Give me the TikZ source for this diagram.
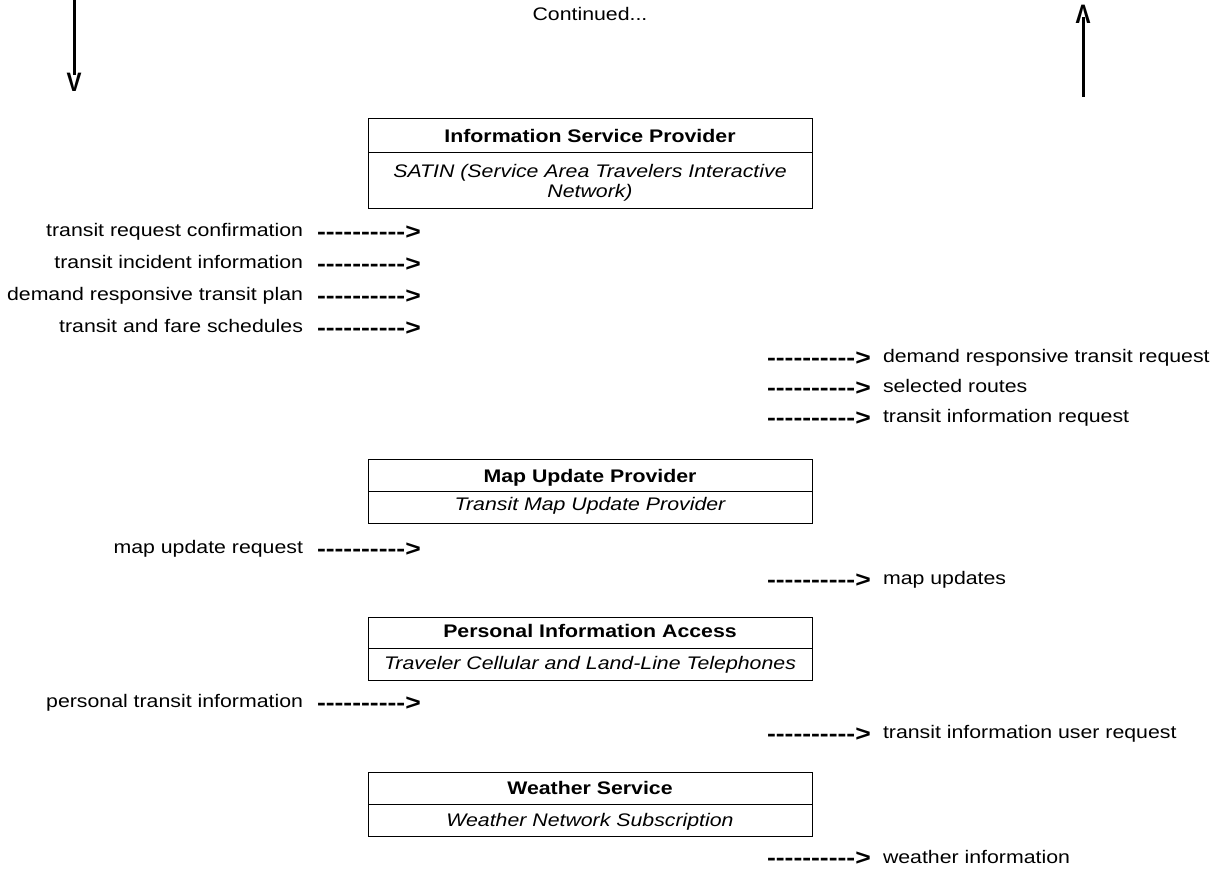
\documentclass[tikz,border=0pt]{standalone}
\usepackage{fontspec}
\setmainfont{Liberation Sans}[FakeStretch=1.17]
% bold "---------->" flow marker; kerns keep the hyphens from joining into dashes
\newcommand\flowmark{{\bfseries\fontsize{17pt}{17pt}\selectfont
 -\kern0pt-\kern0pt-\kern0pt-\kern0pt-\kern0pt-\kern0pt-\kern0pt-\kern0pt-\kern0pt-\kern0pt>}}
\begin{document}
\begin{tikzpicture}[x=0.75pt,y=-0.75pt,
  every node/.style={inner sep=0pt, outer sep=0pt,
    font=\fontsize{13.65pt}{15pt}\selectfont},
  boxpart/.style={draw, line width=0.75pt, minimum width=333pt},
  head/.style={anchor=base, font=\fontsize{13.65pt}{15pt}\selectfont\bfseries},
  sub/.style={anchor=base, align=center, font=\fontsize{13.65pt}{15pt}\selectfont\itshape},
  inlabel/.style={anchor=base east},
  outlabel/.style={anchor=base west},
  flow/.style={anchor=base west},
  tip/.style={font=\fontsize{20pt}{20pt}\selectfont\bfseries},
  trunk/.style={line width=2.25pt}
]
\useasboundingbox (0,0) rectangle (1220,869);

% page continuation
\node[anchor=base] (cont) at (590,20) {Continued...};
\coordinate (ltop) at (74,0);
\node[tip, anchor=north] (vdown) at (74,73) {\scalebox{0.72}[1]{V}};
\draw[trunk] (ltop) -- ([yshift=-1.5pt]vdown.north);
\coordinate (rbot) at (1083,97);
\node[tip, anchor=north] (vup) at (1083,5) {\scalebox{0.72}[1]{Λ}};
\draw[trunk] ([yshift=4.5pt]vup.south) -- (rbot);

% Information Service Provider
\node[boxpart, minimum height=25.5pt] (ispbox) at (590,135) {};
\node[boxpart, minimum height=42pt] (ispsubbox) at (590,180) {};
\node[head] (isp) at (590,142) {Information Service Provider};
\node[sub] (ispsub) at (590,197) {SATIN (Service Area Travelers Interactive\\Network)};

\node[inlabel] (l1) at (303,236) {transit request confirmation};
\node[flow] (f1) at (317,239) {\flowmark};
\node[inlabel] (l2) at (303,268) {transit incident information};
\node[flow] (f2) at (317,271) {\flowmark};
\node[inlabel] (l3) at (303,300) {demand responsive transit plan};
\node[flow] (f3) at (317,303) {\flowmark};
\node[inlabel] (l4) at (303,332) {transit and fare schedules};
\node[flow] (f4) at (317,335) {\flowmark};

\node[flow] (f5) at (767,365) {\flowmark};
\node[outlabel] (l5) at (883,362) {demand responsive transit request};
\node[flow] (f6) at (767,395) {\flowmark};
\node[outlabel] (l6) at (883,392) {selected routes};
\node[flow] (f7) at (767,425) {\flowmark};
\node[outlabel] (l7) at (883,422) {transit information request};

% Map Update Provider
\node[boxpart, minimum height=24pt] (mupbox) at (590,475) {};
\node[boxpart, minimum height=24pt] (mupsubbox) at (590,507) {};
\node[head] (mup) at (590,482) {Map Update Provider};
\node[sub] (mupsub) at (590,510) {Transit Map Update Provider};

\node[inlabel] (l8) at (303,553) {map update request};
\node[flow] (f8) at (317,556) {\flowmark};
\node[flow] (f9) at (767,587) {\flowmark};
\node[outlabel] (l9) at (883,584) {map updates};

% Personal Information Access
\node[boxpart, minimum height=23.25pt] (piabox) at (590,632.5) {};
\node[boxpart, minimum height=24pt] (piasubbox) at (590,664) {};
\node[head] (pia) at (590,637) {Personal Information Access};
\node[sub] (piasub) at (590,669) {Traveler Cellular and Land-Line Telephones};

\node[inlabel] (l10) at (303,707) {personal transit information};
\node[flow] (f10) at (317,710) {\flowmark};
\node[flow] (f11) at (767,741) {\flowmark};
\node[outlabel] (l11) at (883,738) {transit information user request};

% Weather Service
\node[boxpart, minimum height=24pt] (wsbox) at (590,788) {};
\node[boxpart, minimum height=24pt] (wssubbox) at (590,820) {};
\node[head] (ws) at (590,794) {Weather Service};
\node[sub] (wssub) at (590,826) {Weather Network Subscription};

\node[flow] (f12) at (767,865) {\flowmark};
\node[outlabel] (l12) at (883,863) {weather information};
\end{tikzpicture}
\end{document}
